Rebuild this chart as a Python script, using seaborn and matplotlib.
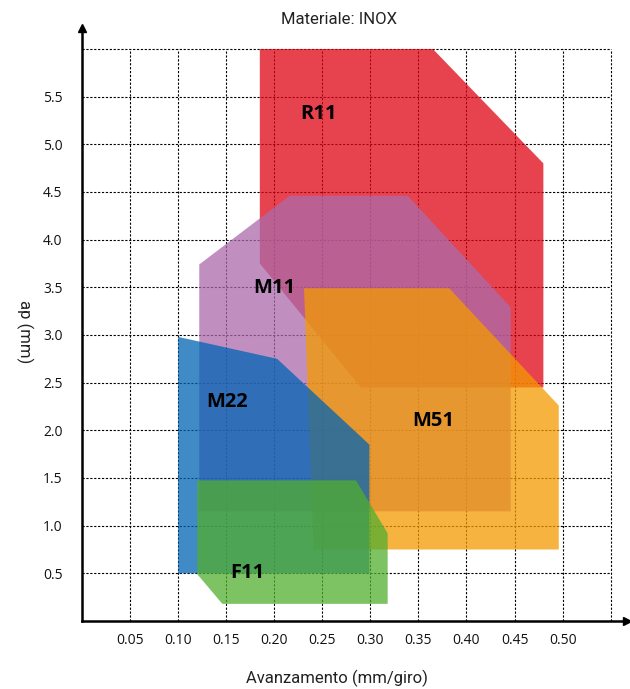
import matplotlib.pyplot as plt
import seaborn as sns

# Campi di applicazione per materiale INOX (avanzamento mm/giro vs ap mm)
tools = ["R11", "M11", "M51", "M22", "F11"]
colors = ["#E00414", "#AB6AAB", "#F49A00", "#0063B4", "#52AE2F"]

r11_feed = [0.185, 0.365, 0.48, 0.48, 0.29, 0.185]
r11_ap = [6.0, 6.0, 4.8, 2.45, 2.45, 3.75]
m11_feed = [0.122, 0.216, 0.339, 0.446, 0.446, 0.122]
m11_ap = [3.74, 4.46, 4.46, 3.29, 1.15, 1.15]
m51_feed = [0.231, 0.382, 0.496, 0.496, 0.241]
m51_ap = [3.49, 3.49, 2.26, 0.75, 0.75]
m22_feed = [0.10, 0.203, 0.299, 0.299, 0.10]
m22_ap = [2.98, 2.75, 1.85, 0.50, 0.50]
f11_feed = [0.12, 0.285, 0.318, 0.318, 0.146, 0.12]
f11_ap = [1.475, 1.475, 0.92, 0.18, 0.18, 0.49]

feeds = [r11_feed, m11_feed, m51_feed, m22_feed, f11_feed]
aps = [r11_ap, m11_ap, m51_ap, m22_ap, f11_ap]

x_ticks = [0.05, 0.10, 0.15, 0.20, 0.25, 0.30, 0.35, 0.40, 0.45, 0.50]
y_ticks = [0.5, 1.0, 1.5, 2.0, 2.5, 3.0, 3.5, 4.0, 4.5, 5.0, 5.5]
x_grid = x_ticks + [0.55]
y_grid = y_ticks + [6.0]

# posizione delle etichette dentro le aree
label_pos = {"R11": (0.246, 5.32), "M11": (0.200, 3.49), "M51": (0.365, 2.10),
             "M22": (0.151, 2.30), "F11": (0.172, 0.50)}

sns.set_style("white")
plt.rcParams['font.family'] = ['Open Sans', 'DejaVu Sans']

fig = plt.figure(figsize=(6.3, 6.89), dpi=100)
ax = fig.add_axes([82 / 630, 68 / 689, 545 / 630, 593 / 689])
ax.set_xlim(0, 0.567)
ax.set_ylim(0, 6.22)

# griglia tratteggiata
ax.vlines(x_grid, 0, 6.0, colors="black", linestyles=(0, (2, 1.5)), linewidth=0.8, zorder=1)
ax.hlines(y_grid, 0, 0.55, colors="black", linestyles=(0, (2, 1.5)), linewidth=0.8, zorder=1)

for name, fx, ay, c in zip(tools, feeds, aps, colors):
    ax.fill(fx, ay, color=c, alpha=0.75, linewidth=0, zorder=2)
    lx, ly = label_pos[name]
    ax.text(lx, ly, name, ha="center", va="center", fontsize=14.5,
            fontweight="bold", color="black", zorder=3)

ax.set_xticks(x_ticks)
ax.set_xticklabels([f"{v:.2f}" for v in x_ticks])
ax.set_yticks(y_ticks)
ax.set_yticklabels([f"{v:.1f}" for v in y_ticks])
ax.tick_params(axis="both", length=0, labelsize=10, colors="#111111")
ax.tick_params(axis="x", pad=9)
ax.tick_params(axis="y", pad=14)

sns.despine(ax=ax, top=True, right=True)
for side in ["left", "bottom"]:
    ax.spines[side].set_linewidth(1.8)
    ax.spines[side].set_color("black")
    ax.spines[side].set_zorder(4)
ax.plot(1, 0, marker=">", color="black", markersize=6, transform=ax.transAxes,
        clip_on=False, zorder=5)
ax.plot(0, 1, marker="^", color="black", markersize=6, transform=ax.transAxes,
        clip_on=False, zorder=5)

fig.text(339 / 630, 1 - 20 / 689, "Materiale: INOX", ha="center", va="center",
         fontsize=12, family=["Roboto", "DejaVu Sans"], color="#222222")
fig.text(337 / 630, 1 - 678 / 689, "Avanzamento (mm/giro)", ha="center", va="center",
         fontsize=12, family=["Roboto", "DejaVu Sans"], color="#222222")
fig.text(25 / 630, 1 - 332 / 689, "ap (mm)", ha="center", va="center", rotation=270,
         fontsize=12, family=["Roboto", "DejaVu Sans"], color="#222222")

fig.savefig("out.png", dpi=100)
